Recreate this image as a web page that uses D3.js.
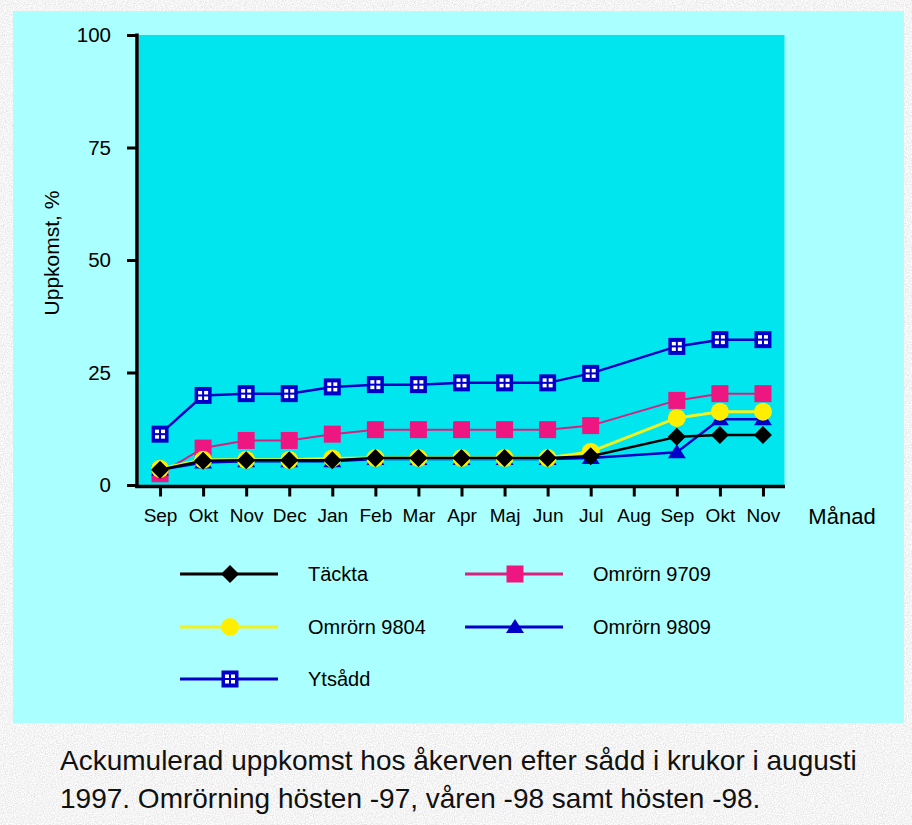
<!DOCTYPE html>
<html>
<head>
<meta charset="utf-8">
<script src="https://cdn.jsdelivr.net/npm/d3@7"></script>
<style>
  body { margin: 0; padding: 0; background: #e4e4e4; }
  svg { display: block; font-family: "Liberation Sans", Arial, sans-serif; }
</style>
</head>
<body>
<div id="chart"></div>
<script>
// Månader på x-axeln (aug saknar mätning)
const manader = ['Sep', 'Okt', 'Nov', 'Dec', 'Jan', 'Feb', 'Mar', 'Apr', 'Maj', 'Jun', 'Jul', 'Aug', 'Sep', 'Okt', 'Nov'];
const yTicks = [0, 25, 50, 75, 100];

// Ackumulerad uppkomst, %
const tackta     = [3.4, 5.4, 5.5, 5.5, 5.5, 6.0, 6.0, 6.0, 6.0, 6.0, 6.4, null, 10.7, 11.1, 11.1];
const omrorn9709 = [2.5, 8.2, 9.9, 9.9, 11.3, 12.3, 12.3, 12.3, 12.3, 12.3, 13.2, null, 18.8, 20.3, 20.3];
const omrorn9804 = [3.6, 5.6, 5.6, 5.6, 5.9, 6.0, 6.0, 6.0, 6.0, 6.0, 7.4, null, 14.9, 16.3, 16.3];
const omrorn9809 = [3.4, 5.0, 5.3, 5.3, 5.3, 5.8, 5.8, 5.8, 5.8, 5.8, 6.0, null, 7.3, 14.6, 14.6];
const ytsadd     = [11.3, 19.9, 20.3, 20.3, 21.8, 22.3, 22.3, 22.7, 22.7, 22.7, 24.8, null, 30.8, 32.3, 32.3];

const serier = [
    { namn: 'Ytsådd', data: ytsadd, farg: '#0000c8', bredd: 2.5, symbol: 'ruta' },
    { namn: 'Omrörn 9709', data: omrorn9709, farg: '#d8207f', bredd: 2, symbol: 'kvadrat', markFarg: '#ee1680' },
    { namn: 'Omrörn 9809', data: omrorn9809, farg: '#0000c8', bredd: 2.5, symbol: 'triangel' },
    { namn: 'Omrörn 9804', data: omrorn9804, farg: '#f2f21e', bredd: 3, symbol: 'cirkel', markFarg: '#ffee00' },
    { namn: 'Täckta', data: tackta, farg: '#000000', bredd: 2.5, symbol: 'romb' }
];

// Legendens ordning (två kolumner)
const legendOrdning = ['Täckta', 'Omrörn 9709', 'Omrörn 9804', 'Omrörn 9809', 'Ytsådd'];

const width = 912;
const height = 825;
const plot = { left: 138.5, right: 784.5, top: 35, bottom: 485 };

const svg = d3.select('#chart').append('svg')
    .attr('width', width)
    .attr('height', height);

// Grå, kornig bakgrund
const defs = svg.append('defs');
const filter = defs.append('filter').attr('id', 'korn').attr('x', 0).attr('y', 0).attr('width', 1).attr('height', 1);
filter.append('feTurbulence')
    .attr('type', 'fractalNoise')
    .attr('baseFrequency', 0.9)
    .attr('numOctaves', 2)
    .attr('seed', 3);
filter.append('feColorMatrix')
    .attr('type', 'matrix')
    .attr('values', '0.45 0 0 0 0.68  0.45 0 0 0 0.68  0.45 0 0 0 0.68  0 0 0 0 1');

svg.append('rect')
    .attr('width', width).attr('height', height)
    .attr('filter', 'url(#korn)');

// Ljusblå panel
svg.append('rect')
    .attr('x', 13).attr('y', 11)
    .attr('width', 891).attr('height', 712)
    .attr('fill', '#aaffff');

// Diagramyta
svg.append('rect')
    .attr('x', 139).attr('y', plot.top)
    .attr('width', plot.right - 139).attr('height', plot.bottom - plot.top)
    .attr('fill', '#00e6ee');

const x = d3.scalePoint()
    .domain(d3.range(manader.length))
    .range([plot.left, plot.right])
    .padding(0.5);

const y = d3.scaleLinear()
    .domain([0, 100])
    .range([plot.bottom, plot.top]);

// Y-axel
const yAxis = svg.append('g')
    .attr('transform', `translate(137,0)`)
    .call(d3.axisLeft(y).tickValues(yTicks).tickSize(10).tickPadding(16).tickSizeOuter(0));
yAxis.select('.domain').attr('stroke-width', 3.5).attr('stroke', '#000')
    .attr('d', `M0,${plot.top - 1.5}V${plot.bottom + 3}`);
yAxis.selectAll('.tick line').attr('stroke-width', 3).attr('stroke', '#000');
yAxis.selectAll('.tick text').attr('font-size', 20.5).attr('fill', '#000');

// X-axel
const xAxis = svg.append('g')
    .attr('transform', `translate(0,${plot.bottom + 1.5})`)
    .call(d3.axisBottom(x).tickFormat(i => manader[i]).tickSize(10).tickPadding(12).tickSizeOuter(0));
xAxis.select('.domain').attr('stroke-width', 3.5).attr('stroke', '#000')
    .attr('d', `M135.3,0H${plot.right + 0.5}`);
xAxis.selectAll('.tick line').attr('stroke-width', 3).attr('stroke', '#000');
xAxis.selectAll('.tick text').attr('font-size', 19).attr('fill', '#000');

// Axeltitlar
svg.append('text')
    .attr('transform', 'translate(59,253) rotate(-90)')
    .attr('text-anchor', 'middle')
    .attr('font-size', 21)
    .text('Uppkomst, %');

svg.append('text')
    .attr('x', 842).attr('y', 524)
    .attr('text-anchor', 'middle')
    .attr('font-size', 22)
    .text('Månad');

// Ritar en markör i punkten (cx, cy)
function ritaSymbol(g, s, cx, cy) {
    const fill = s.markFarg || s.farg;
    if (s.symbol === 'kvadrat') {
        g.append('rect').attr('x', cx - 8.5).attr('y', cy - 8.5)
            .attr('width', 17).attr('height', 17).attr('fill', fill);
    } else if (s.symbol === 'cirkel') {
        g.append('circle').attr('cx', cx).attr('cy', cy).attr('r', 9).attr('fill', fill);
    } else if (s.symbol === 'triangel') {
        g.append('path')
            .attr('d', `M${cx},${cy - 8}L${cx + 9},${cy + 6}L${cx - 9},${cy + 6}Z`)
            .attr('fill', fill);
    } else if (s.symbol === 'romb') {
        g.append('path')
            .attr('d', `M${cx},${cy - 9}L${cx + 9},${cy}L${cx},${cy + 9}L${cx - 9},${cy}Z`)
            .attr('fill', fill);
    } else if (s.symbol === 'ruta') {
        g.append('rect').attr('x', cx - 8.5).attr('y', cy - 8.5)
            .attr('width', 17).attr('height', 17).attr('fill', fill);
        [[-5, -4.5], [1, -4.5], [-5, 1], [1, 1]].forEach(([dx, dy]) => {
            g.append('rect').attr('x', cx + dx).attr('y', cy + dy)
                .attr('width', 4).attr('height', 3.5).attr('fill', '#fff');
        });
    }
}

// Linjer och markörer, serie för serie
const linje = d3.line()
    .defined(d => d.v !== null)
    .x(d => x(d.i))
    .y(d => y(d.v));

serier.forEach(s => {
    const punkter = s.data.map((v, i) => ({ i, v })).filter(d => d.v !== null);
    const g = svg.append('g');
    g.append('path')
        .datum(punkter)
        .attr('d', linje)
        .attr('fill', 'none')
        .attr('stroke', s.farg)
        .attr('stroke-width', s.bredd)
        .attr('stroke-linejoin', 'round');
    punkter.forEach(d => ritaSymbol(g, s, x(d.i), y(d.v)));
});

// Legend
const legendX = [180, 465];
const legendY = [574, 627, 679];
legendOrdning.forEach((namn, k) => {
    const s = serier.find(d => d.namn === namn);
    const lx = legendX[k % 2];
    const ly = legendY[Math.floor(k / 2)];
    const g = svg.append('g');
    g.append('line')
        .attr('x1', lx).attr('x2', lx + 98)
        .attr('y1', ly).attr('y2', ly)
        .attr('stroke', s.farg)
        .attr('stroke-width', 3);
    ritaSymbol(g, s, lx + 50, ly);
    g.append('text')
        .attr('x', lx + 128).attr('y', ly + 7)
        .attr('font-size', 20)
        .text(namn);
});

// Bildtext
const bildtext = ['Ackumulerad uppkomst hos åkerven efter sådd i krukor i augusti',
    '1997. Omrörning hösten -97, våren -98 samt hösten -98.'];
svg.append('g').selectAll('text')
    .data(bildtext)
    .enter().append('text')
    .attr('x', 60)
    .attr('y', (_, i) => 770 + i * 38)
    .attr('font-size', 28)
    .attr('fill', '#111')
    .text(d => d);
</script>
</body>
</html>
